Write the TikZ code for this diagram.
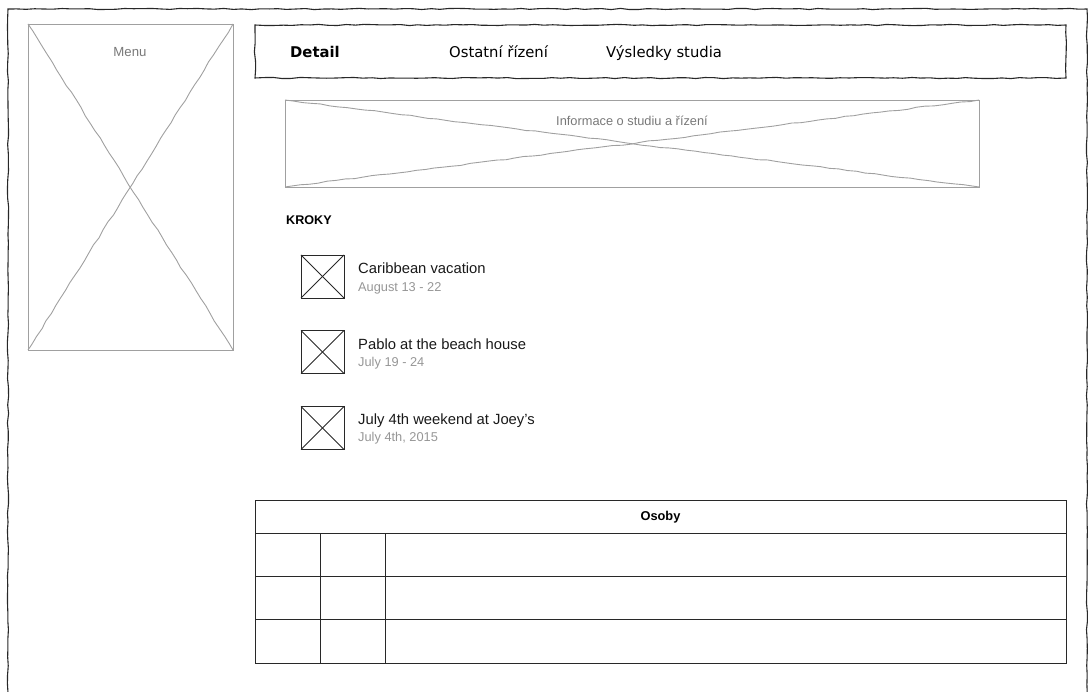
\documentclass[tikz,border=0pt]{standalone}
\usepackage{fontspec}
\setmainfont{Liberation Sans}
\newfontfamily\verd{DejaVu Sans}
\usetikzlibrary{decorations.pathmorphing}
\definecolor{lgray}{RGB}{160,160,160}
\definecolor{tgray}{RGB}{150,150,150}
\definecolor{mgray}{RGB}{120,120,120}
\definecolor{dline}{RGB}{40,40,40}
\begin{document}
\begin{tikzpicture}[x=1pt,y=-1pt,
  sketch/.style={decorate,decoration={random steps,segment length=9pt,amplitude=0.6pt}},
  box/.style={inner sep=0pt,outer sep=0pt},
  graybox/.style={box,draw=lgray,line width=0.9pt},
  icon/.style={box,draw=dline,line width=0.9pt,minimum width=43pt,minimum height=43pt},
  cell/.style={box,draw=dline,line width=0.9pt},
  ttl/.style={anchor=base west,inner sep=0pt,font=\fontsize{14.8}{17}\selectfont,text=black!90},
  sub/.style={anchor=base west,inner sep=0pt,font=\fontsize{12.8}{15}\selectfont,text=tgray},
  nav/.style={anchor=base west,inner sep=0pt,font=\verd\fontsize{14.8}{17}\selectfont}]
\pgfmathsetseed{7}
\useasboundingbox (0,0) rectangle (1088,692);
\clip (0,0) rectangle (1088,692);
% outer frame
\coordinate (fbl) at (8,720);
\coordinate (ftl) at (8,9);
\coordinate (ftr) at (1087,9);
\coordinate (fbr) at (1087,720);
\draw[sketch,line width=1.1pt,draw=dline] (fbl) -- (ftl) -- (ftr) -- (fbr);
% menu
\node[graybox,minimum width=205pt,minimum height=326pt] (menu) at (130.5,187) {};
\draw[sketch,lgray,line width=0.9pt] (menu.north west) -- (menu.south east);
\draw[sketch,lgray,line width=0.9pt] (menu.north east) -- (menu.south west);
\node[anchor=base,inner sep=0pt,text=mgray,font=\fontsize{13.2}{15}\selectfont] (menut) at (130,57) {Menu};
% nav bar
\node[box,minimum width=811pt,minimum height=53pt] (navb) at (660.5,51.5) {};
\draw[sketch,line width=1.1pt,draw=dline] (navb.north west) rectangle (navb.south east);
\node[nav,font=\verd\bfseries\fontsize{14.8}{17}\selectfont] (detail) at (290,58) {Detail};
\node[nav] (ostatni) at (449,58) {Ostatní řízení};
\node[nav] (vysl) at (606,58) {Výsledky studia};
% info
\node[graybox,minimum width=694pt,minimum height=87pt] (info) at (632,143.5) {};
\draw[sketch,lgray,line width=0.9pt] (info.north west) -- (info.south east);
\draw[sketch,lgray,line width=0.9pt] (info.north east) -- (info.south west);
\node[anchor=base,inner sep=0pt,text=mgray,font=\fontsize{12.8}{15}\selectfont] (infot) at (632,126) {Informace o studiu a řízení};
% kroky
\node[anchor=base west,inner sep=0pt,font=\bfseries\fontsize{12.6}{15}\selectfont] (kroky) at (286,224.5) {KROKY};
\foreach \i/\yc/\ta/\tb/\t/\s in {1/276.5/274/291.5/{Caribbean vacation}/{August 13 - 22},
                           2/352/349.5/366.5/{Pablo at the beach house}/{July 19 - 24},
                           3/428/425/442/{July 4th weekend at Joey's}/{July 4th, 2015}}{
  \node[icon] (ic\i) at (322.5,\yc) {};
  \draw[dline,line width=0.8pt] (ic\i.north west) -- (ic\i.south east);
  \draw[dline,line width=0.8pt] (ic\i.north east) -- (ic\i.south west);
  \node[ttl] (t\i) at (358,\ta) {\t};
  \node[sub] (s\i) at (358,\tb) {\s};
}
% table
\node[cell,minimum width=811pt,minimum height=33pt] (osoby) at (660.5,516.5) {};
\node[anchor=base,inner sep=0pt,font=\bfseries\fontsize{12.8}{15}\selectfont] (osobyt) at (660.5,521) {Osoby};
\foreach \r/\yc in {1/554.67,2/598,3/641.33}{
  \node[cell,minimum width=65pt,minimum height=43.33pt] (a\r) at (287.5,\yc) {};
  \node[cell,minimum width=65pt,minimum height=43.33pt] (b\r) at (352.5,\yc) {};
  \node[cell,minimum width=681pt,minimum height=43.33pt] (c\r) at (725.5,\yc) {};
}
\end{tikzpicture}
\end{document}
